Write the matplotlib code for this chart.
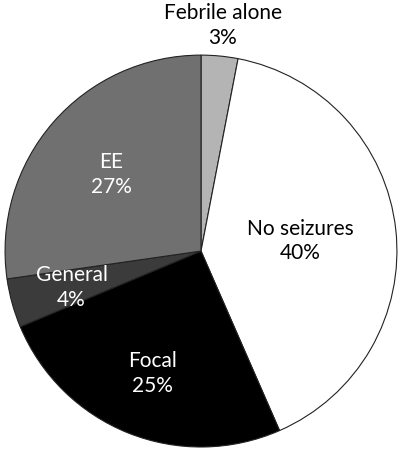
import numpy as np
import matplotlib.pyplot as plt

labels = ['Febrile alone', 'No seizures', 'Focal', 'General', 'EE']
pcts = [3, 40, 25, 4, 27]
colors = ['#b4b4b4', '#ffffff', '#000000', '#3b3b3b', '#707070']
text_colors = ['black', 'black', 'white', 'white', 'white']
label_r = [1.16, 0.51, 0.666, 0.685, 0.607]

plt.rcParams['font.family'] = ['Lato', 'DejaVu Sans']

fig = plt.figure(figsize=(4.0, 4.52), dpi=100)
ax = fig.add_axes([0.0125, 0.00885, 0.98, 0.867])
wedges, _ = ax.pie(pcts, colors=colors, startangle=90, counterclock=False,
                   wedgeprops=dict(edgecolor='#222222', linewidth=0.8))
ax.set_xlim(-1, 1)
ax.set_ylim(-1, 1)
ax.set_aspect('equal')
ax.axis('off')

for w, lab, p, c, r in zip(wedges, labels, pcts, text_colors, label_r):
    ang = np.deg2rad((w.theta1 + w.theta2) / 2)
    ax.text(r * np.cos(ang), r * np.sin(ang), f'{lab}\n{p}%', ha='center', va='center',
            color=c, fontsize=15, linespacing=1.3, clip_on=False)

fig.savefig('out.png', dpi=100)
